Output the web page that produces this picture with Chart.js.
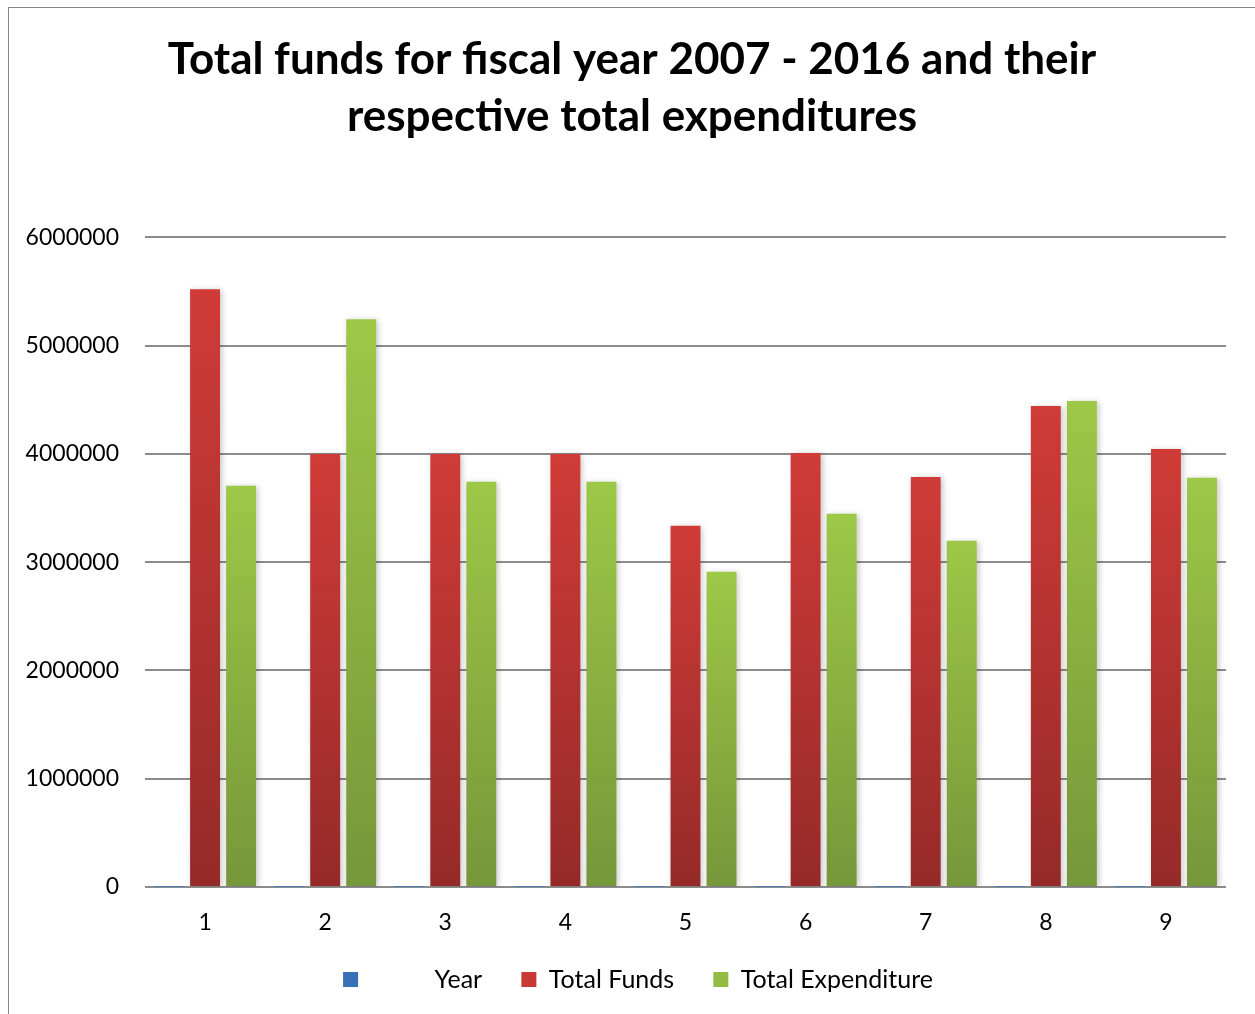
<!DOCTYPE html>
<html>
<head>
<meta charset="utf-8">
<script src="https://cdn.jsdelivr.net/npm/chart.js@4.4.0/dist/chart.umd.min.js"></script>
<style>
  body { margin: 0; background: #fff; }
  #frame {
    position: absolute; left: 8px; top: 7px; width: 1400px; height: 1200px;
    border-left: 1px solid #868686; border-top: 1px solid #868686;
  }
  #wrap { position: absolute; left: 0; top: 0; width: 1255px; height: 1014px; }
</style>
</head>
<body>
<div id="frame"></div>
<div id="wrap"><canvas id="chart"></canvas></div>
<script>
const categories = ["1", "2", "3", "4", "5", "6", "7", "8", "9"];
const years = [2007, 2008, 2009, 2010, 2011, 2012, 2013, 2014, 2015];
const totalFunds = [5520000, 4000000, 4000000, 4000000, 3336000, 4009000, 3788000, 4442000, 4046000];
const totalExpenditure = [3705000, 5245000, 3742000, 3742000, 2912000, 3447000, 3198000, 4488000, 3779000];
const yTicks = [0, 1000000, 2000000, 3000000, 4000000, 5000000, 6000000];

const fontFamily = "Lato, 'Open Sans', sans-serif";

// vertical gradient per bar, light at the top, dark at the bottom
function barGradient(topColor, bottomColor) {
    return function(context) {
        const chart = context.chart;
        const y = chart.scales.y;
        if (!y || context.parsed === undefined || context.type !== "data") {
            return topColor;
        }
        const top = y.getPixelForValue(context.parsed.y);
        const bottom = y.getPixelForValue(0);
        if (!isFinite(top) || !isFinite(bottom) || Math.abs(bottom - top) < 1) {
            return topColor;
        }
        const g = chart.ctx.createLinearGradient(0, top, 0, bottom);
        g.addColorStop(0, topColor);
        g.addColorStop(1, bottomColor);
        return g;
    };
}

const barShadow = {
    id: "barShadow",
    beforeDatasetsDraw(chart) {
        const ctx = chart.ctx;
        ctx.save();
        ctx.shadowColor = "rgba(0, 0, 0, 0.22)";
        ctx.shadowBlur = 6;
        ctx.shadowOffsetX = 2;
        ctx.shadowOffsetY = 1;
    },
    afterDatasetsDraw(chart) {
        chart.ctx.restore();
    }
};

// title and legend sit a bit right of the plot centre in the original
const shiftBlocks = {
    id: "shiftBlocks",
    afterLayout(chart) {
        chart.titleBlock.left += 38;
        chart.legend.left += 50;
    }
};

const ctx = document.getElementById("chart");

const chart = new Chart(ctx, {
    type: "bar",
    data: {
        labels: categories,
        datasets: [{
            label: "Year",
            data: years,
            backgroundColor: barGradient("#3D74BE", "#2C5A96"),
            legendColor: "#3A6FB8"
        }, {
            label: "Total Funds",
            data: totalFunds,
            backgroundColor: barGradient("#D03B37", "#952A29"),
            legendColor: "#C83935"
        }, {
            label: "Total Expenditure",
            data: totalExpenditure,
            backgroundColor: barGradient("#9DC847", "#76973A"),
            legendColor: "#92BC44"
        }]
    },
    options: {
        responsive: true,
        maintainAspectRatio: false,
        animation: false,
        categoryPercentage: 0.9,
        barPercentage: 0.83,
        layout: {
            padding: { top: 31, right: 29, bottom: 12, left: 0 }
        },
        scales: {
            x: {
                afterFit: function(axis) {
                    axis.height = 60;
                },
                grid: { display: false },
                border: { display: false },
                ticks: {
                    color: "#000",
                    padding: 14,
                    font: { family: fontFamily, size: 23 }
                }
            },
            y: {
                min: 0,
                max: 6000000,
                afterBuildTicks: function(axis) {
                    axis.ticks = yTicks.map(v => ({ value: v }));
                },
                afterFit: function(axis) {
                    axis.width = 145;
                },
                grid: {
                    color: "#8C8C8C",
                    lineWidth: 2,
                    drawTicks: false
                },
                border: { display: false },
                ticks: {
                    color: "#000",
                    padding: 26,
                    font: { family: fontFamily, size: 23 },
                    callback: function(value) {
                        return String(value);
                    }
                }
            }
        },
        plugins: {
            title: {
                display: true,
                text: ["Total funds for fiscal year 2007 - 2016 and their", "respective total expenditures"],
                color: "#000",
                font: { family: fontFamily, size: 44, weight: "bold", lineHeight: 1.3 },
                padding: { top: 0, bottom: 92 }
            },
            legend: {
                position: "bottom",
                labels: {
                    color: "#000",
                    boxWidth: 15,
                    boxHeight: 15,
                    padding: 20,
                    font: { family: fontFamily, size: 25 },
                    generateLabels: function(chart) {
                        const n = chart.data.datasets.length;
                        return chart.data.datasets.map((ds, i) => {
                            let text = ds.label;
                            if (ds.label === "Year") {
                                text = "          " + text;
                            }
                            if (i < n - 1) {
                                text = text + "   ";
                            }
                            return {
                                text: text,
                                fillStyle: ds.legendColor,
                                strokeStyle: ds.legendColor,
                                lineWidth: 0,
                                hidden: !chart.isDatasetVisible(i),
                                datasetIndex: i
                            };
                        });
                    }
                }
            },
            tooltip: { enabled: false }
        }
    },
    plugins: [barShadow, shiftBlocks]
});
</script>
</body>
</html>
